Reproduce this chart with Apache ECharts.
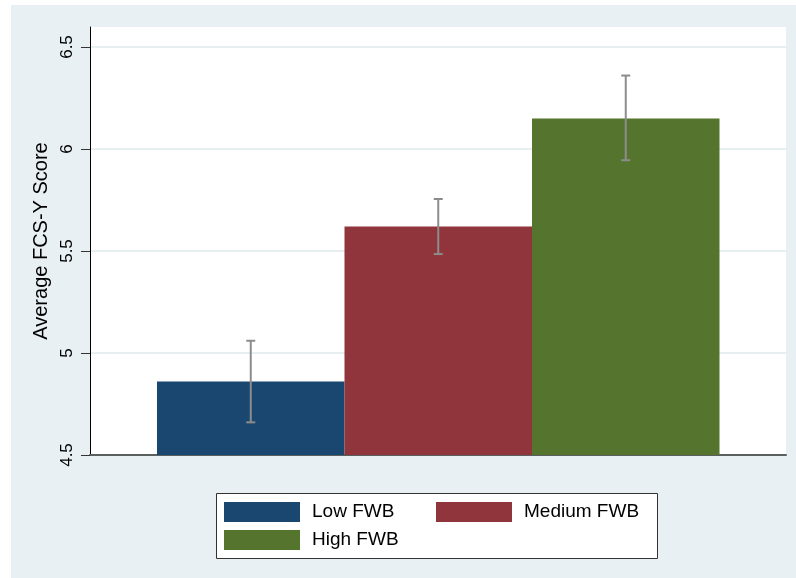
<!DOCTYPE html>
<html>
<head>
<meta charset="utf-8">
<script src="https://cdn.jsdelivr.net/npm/echarts@6/dist/echarts.min.js"></script>
<style>html,body{margin:0;padding:0;background:#fff}#c{width:796px;height:578px}</style>
</head>
<body>
<div id="c"></div>
<script>
const categories = ['Low FWB', 'Medium FWB', 'High FWB'];
const means = [4.86, 5.62, 6.15];
const ciLow = [4.66, 5.485, 5.945];
const ciHigh = [5.06, 5.755, 6.36];
const yTicks = [4.5, 5, 5.5, 6, 6.5];
const colors = ['#1a476f', '#90353b', '#55752f'];

const yMin = 4.5, yMax = 6.598;
const font = 'Liberation Sans, Arial, sans-serif';

const chart = echarts.init(document.getElementById('c'));

const barSeries = categories.map((name, i) => ({
  name: name,
  type: 'bar',
  xAxisIndex: 0,
  yAxisIndex: 0,
  stack: 'all',
  barWidth: '100%',
  itemStyle: { color: colors[i] },
  data: categories.map((c, j) => (j === i ? means[i] : '-')),
  z: 2
}));

const errData = categories.map((c, i) => [i, ciLow[i], ciHigh[i]]);

const legendBase = {
  orient: 'vertical',
  padding: 0,
  itemGap: 8,
  itemWidth: 76, itemHeight: 20,
  icon: 'rect',
  selectedMode: false,
  textStyle: { fontFamily: font, fontSize: 19, color: '#000', padding: [0, 0, 0, 7] }
};

chart.setOption({
  animation: false,
  backgroundColor: '#ffffff',
  graphic: [{
    type: 'rect', z: -10, silent: true,
    shape: { x: 11, y: 5, width: 785, height: 573 },
    style: { fill: '#e9f0f3' }
  }, {
    type: 'rect', z: 1, silent: true,
    shape: { x: 216.5, y: 493.5, width: 441, height: 65 },
    style: { fill: '#ffffff', stroke: '#333333', lineWidth: 1 }
  }],
  grid: [
    { left: 157, right: 76.5, top: 27, bottom: 123, containLabel: false },
    { left: 90, right: 10, top: 27, bottom: 123, show: true, backgroundColor: '#ffffff', borderWidth: 0, containLabel: false }
  ],
  xAxis: [
    { type: 'category', gridIndex: 0, data: categories, show: false, boundaryGap: true },
    { type: 'category', gridIndex: 1, data: [''],
      axisLine: { show: true, lineStyle: { color: '#5a5f60', width: 2 } },
      axisTick: { show: false }, axisLabel: { show: false }, splitLine: { show: false } }
  ],
  yAxis: [
    { type: 'value', gridIndex: 0, min: yMin, max: yMax, show: false, splitLine: { show: false } },
    { type: 'value', gridIndex: 1, min: yMin, max: yMax, interval: 0.5,
      name: 'Average FCS-Y Score', nameLocation: 'middle', nameGap: 38,
      nameTextStyle: { fontFamily: font, fontSize: 20, color: '#000' },
      axisLine: { show: true, lineStyle: { color: '#000', width: 1 } },
      axisTick: { show: true, length: 9, customValues: yTicks, lineStyle: { color: '#333', width: 1 } },
      axisLabel: { show: true, rotate: 90, margin: 14, customValues: yTicks,
        fontFamily: font, fontSize: 17, color: '#000',
        formatter: v => String(v) },
      splitLine: { show: true, lineStyle: { color: '#e8eff1', width: 2 } }
    }
  ],
  legend: [
    Object.assign({}, legendBase, { data: [categories[0], categories[2]], left: 224, top: 502 }),
    Object.assign({}, legendBase, { data: [categories[1]], left: 436, top: 502 })
  ],
  series: barSeries.concat([{
    type: 'custom',
    name: 'ci',
    xAxisIndex: 0,
    yAxisIndex: 0,
    z: 5,
    data: errData,
    renderItem: function (params, api) {
      const x = api.value(0);
      const p1 = api.coord([x, api.value(1)]);
      const p2 = api.coord([x, api.value(2)]);
      const hw = 4.5;
      const st = { stroke: '#8c8c8c', lineWidth: 2 };
      return {
        type: 'group',
        children: [
          { type: 'line', shape: { x1: p1[0], y1: p1[1], x2: p2[0], y2: p2[1] }, style: st },
          { type: 'line', shape: { x1: p1[0] - hw, y1: p1[1], x2: p1[0] + hw, y2: p1[1] }, style: st },
          { type: 'line', shape: { x1: p2[0] - hw, y1: p2[1], x2: p2[0] + hw, y2: p2[1] }, style: st }
        ]
      };
    }
  }])
});
</script>
</body>
</html>
